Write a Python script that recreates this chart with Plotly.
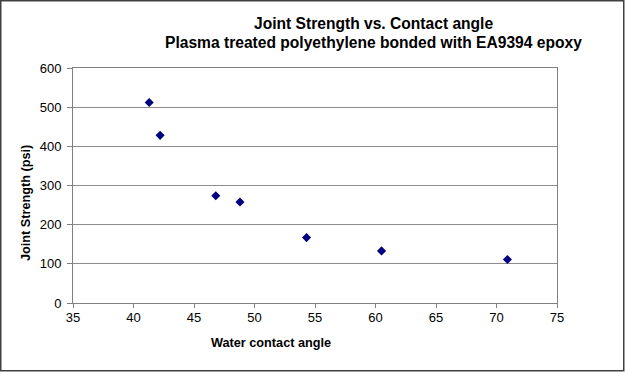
import plotly.graph_objects as go

contact_angle = [41.3, 42.2, 46.8, 48.8, 54.3, 60.5, 70.9]
joint_strength = [512, 428, 274, 258, 167, 133, 111]

x_ticks = [35, 40, 45, 50, 55, 60, 65, 70, 75]
y_ticks = [0, 100, 200, 300, 400, 500, 600]

title_line1 = "Joint Strength vs. Contact angle"
title_line2 = "Plasma treated polyethylene bonded with EA9394 epoxy"
x_title = "Water contact angle"
y_title = "Joint Strength (psi)"

W, H = 625, 372
L, R, T, B = 73, 68, 68, 69
PW = W - L - R
PH = H - T - B

def px_x(px):
    return (px - L) / PW

def px_y(py):
    return (H - B - py) / PH

font = "Arial, Liberation Sans, sans-serif"

fig = go.Figure()
fig.add_trace(go.Scatter(
    x=contact_angle, y=joint_strength, mode="markers",
    marker=dict(symbol="diamond", size=7, color="#000080"),
    showlegend=False,
))

axis_common = dict(
    showline=True, linecolor="#808080", linewidth=1, mirror=True,
    ticks="outside", tickcolor="#808080", tickwidth=1,
    tickfont=dict(family=font, size=13, color="#000000"),
    zeroline=False,
)

fig.update_xaxes(range=[35, 75], tickvals=x_ticks, showgrid=False,
                 ticklen=4, ticklabelstandoff=-2, **axis_common)
fig.update_yaxes(range=[0, 600], tickvals=y_ticks, showgrid=True,
                 gridcolor="#8c8c8c", gridwidth=1,
                 ticklen=5, ticklabelstandoff=3, **axis_common)

annotations = [
    dict(text="<b>" + title_line1 + "</b>", x=px_x(373), y=px_y(24), size=15.6),
    dict(text="<b>" + title_line2 + "</b>", x=px_x(373), y=px_y(43), size=15.6),
    dict(text="<b>" + x_title + "</b>", x=px_x(271), y=px_y(343), size=12.7),
    dict(text="<b>" + y_title + "</b>", x=px_x(26), y=px_y(203), size=12.7, textangle=-90),
]
for a in annotations:
    s = a.pop("size")
    a.update(xref="paper", yref="paper", showarrow=False,
             xanchor="center", yanchor="middle",
             font=dict(family=font, size=s, color="#000000"))

fig.update_layout(
    width=W, height=H,
    margin=dict(l=L, r=R, t=T, b=B, pad=0),
    paper_bgcolor="#ffffff", plot_bgcolor="#ffffff",
    annotations=annotations,
    shapes=[dict(type="rect", xref="paper", yref="paper",
                 x0=px_x(0.75), x1=px_x(623.75), y0=px_y(370.75), y1=px_y(0.75),
                 line=dict(color="#404040", width=1.5), layer="below")],
)

fig.write_html("out.html", config={"displayModeBar": False},
               post_script="document.body.style.margin='0';document.body.style.padding='0';")
